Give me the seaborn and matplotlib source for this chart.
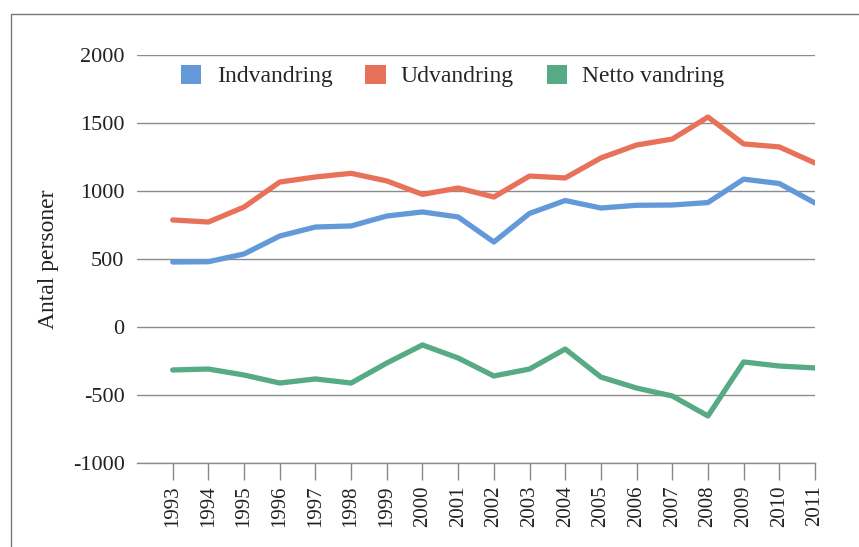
import matplotlib
matplotlib.use("Agg")
import matplotlib.pyplot as plt
from matplotlib.patches import Patch
import seaborn as sns
import pandas as pd

# data
years = list(range(1993, 2012))
indvandring = [478, 480, 537, 669, 735, 743, 816, 846, 809, 625,
               835, 930, 875, 895, 897, 915, 1087, 1055, 912]
udvandring = [787, 772, 882, 1066, 1103, 1130, 1074, 975, 1022, 956,
              1110, 1096, 1243, 1338, 1382, 1544, 1346, 1324, 1206]
netto = [-316, -309, -353, -412, -382, -412, -265, -132, -228, -360,
         -309, -162, -368, -449, -507, -654, -257, -287, -301]
series_names = ["Indvandring", "Udvandring", "Netto vandring"]
colors = ["#6399D8", "#E8715A", "#56AA84"]

df = pd.DataFrame({"year": years, series_names[0]: indvandring,
                   series_names[1]: udvandring, series_names[2]: netto})
long_df = df.melt(id_vars="year", var_name="serie", value_name="antal")

sns.set_style("white")
plt.rcParams["font.family"] = ["Liberation Serif", "DejaVu Serif"]
plt.rcParams["axes.unicode_minus"] = False

fig = plt.figure(figsize=(8.59, 5.47), dpi=100)
ax = fig.add_axes([137 / 859, 1 - 463 / 547, (815 - 137) / 859, (463 - 55) / 547])

sns.lineplot(data=long_df, x="year", y="antal", hue="serie",
             palette=dict(zip(series_names, colors)), linewidth=3.8,
             ax=ax, legend=False)

ax.set_xlim(1992, 2011)
ax.set_ylim(-1000, 2000)
ax.set_yticks(range(-1000, 2001, 500))
ax.set_xticks(years)
ax.set_xticklabels([str(y) for y in years], rotation=90)
ax.tick_params(axis="y", length=0, labelsize=16, pad=9, colors="#222222")
ax.tick_params(axis="x", length=12, width=1, labelsize=15,
               pad=4, labelcolor="#222222", color="#888888",
               direction="out", bottom=True)
ax.grid(axis="y", color="#8c8c8c", linewidth=1)
ax.set_axisbelow(True)
for side in ["top", "right", "left"]:
    ax.spines[side].set_visible(False)
ax.spines["bottom"].set_color("#8c8c8c")
ax.spines["bottom"].set_linewidth(1)
ax.set_xlabel("")
ax.set_ylabel("Antal personer", fontsize=17, color="#222222", labelpad=10)

handles = [Patch(facecolor=c, edgecolor="none") for c in colors]
fig.legend(handles, series_names, loc="center", ncol=3, frameon=False,
           bbox_to_anchor=(453 / 859, 1 - 76 / 547), fontsize=17,
           handlelength=0.85, handleheight=0.85, handletextpad=0.65,
           columnspacing=1.4)

# outer frame around the figure
fig.add_artist(plt.Rectangle((11 / 859, -0.05), 1.0, 1 - 14 / 547 + 0.05,
                             transform=fig.transFigure, fill=False,
                             edgecolor="#777777", linewidth=1))

fig.savefig("out.png", dpi=100)
plt.close(fig)
